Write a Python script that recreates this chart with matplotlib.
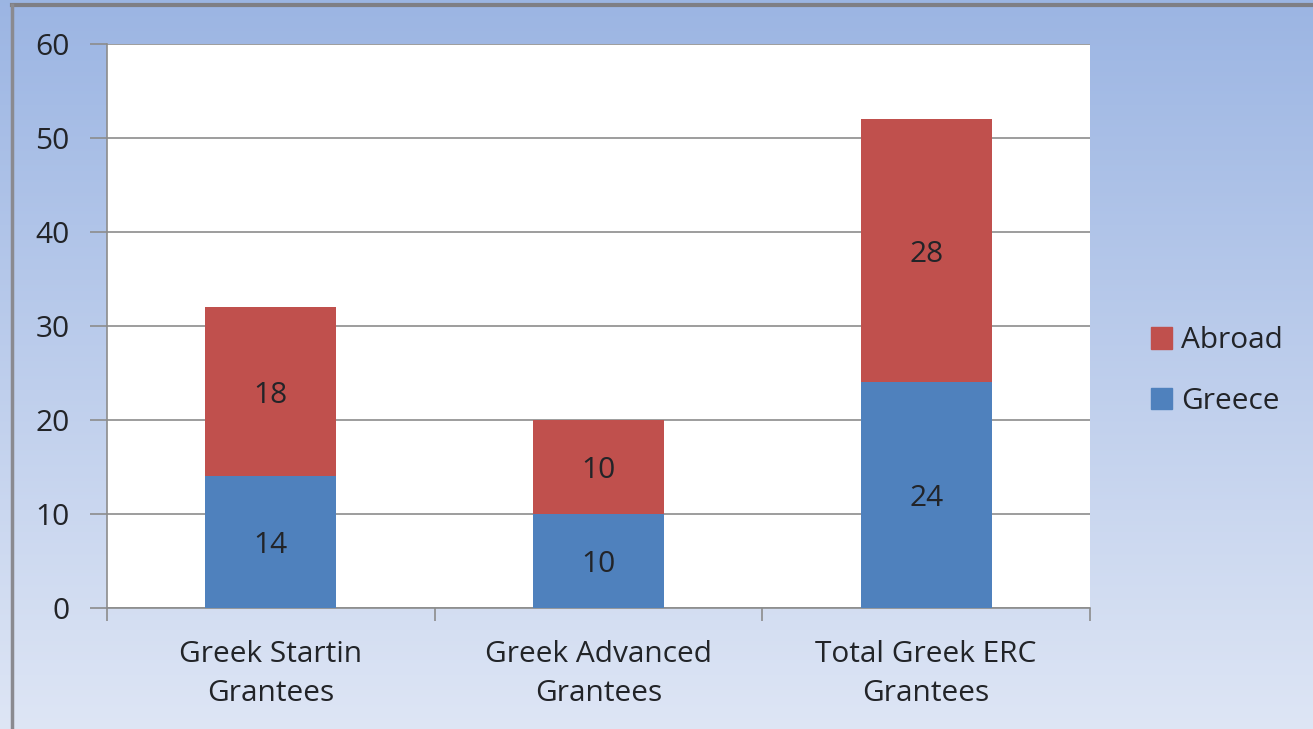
import numpy as np
import matplotlib
matplotlib.use('Agg')
import matplotlib.pyplot as plt
from matplotlib.lines import Line2D
from matplotlib.patches import Patch

categories = ['Greek Startin\nGrantees', 'Greek Advanced\nGrantees', 'Total Greek ERC\nGrantees']
greece = [14, 10, 24]
abroad = [18, 10, 28]
yticks = [0, 10, 20, 30, 40, 50, 60]

plt.rcParams['font.family'] = ['Open Sans', 'DejaVu Sans']

W, H = 1313, 729
fig = plt.figure(figsize=(W / 100, H / 100), dpi=100)

# background gradient (blue at top -> pale at bottom)
bg = fig.add_axes([0, 0, 1, 1], zorder=-10)
top = np.array([0.61, 0.71, 0.89])
bot = np.array([0.87, 0.90, 0.96])
t = np.linspace(0, 1, 256)[:, None]
grad = top * (1 - t) + bot * t
bg.imshow(grad[:, None, :].repeat(2, axis=1), aspect='auto', extent=[0, 1, 0, 1])
bg.set_xlim(0, 1)
bg.set_ylim(0, 1)
bg.axis('off')

# frame edge on top and left
fig.add_artist(Line2D([12 / W, 1], [1 - 5 / H, 1 - 5 / H], color='#7f7f85', lw=3))
fig.add_artist(Line2D([12 / W, 12 / W], [0, 1 - 5 / H], color='#8a8a90', lw=2.5))

x0, x1, y0, y1 = 107, 1090, 44, 608
ax = fig.add_axes([x0 / W, 1 - y1 / H, (x1 - x0) / W, (y1 - y0) / H])
ax.set_facecolor('white')

blue = '#4f81bd'
red = '#c0504d'
txt = '#222428'
fs = 21.5
x = np.arange(len(categories))
bw = 0.4
ax.bar(x, greece, bw, color=blue, zorder=3, label='Greece')
ax.bar(x, abroad, bw, bottom=greece, color=red, zorder=3, label='Abroad')

for i in range(len(categories)):
    ax.text(x[i], greece[i] / 2, str(greece[i]), ha='center', va='center_baseline',
            fontsize=fs, color=txt, zorder=4)
    ax.text(x[i], greece[i] + abroad[i] / 2, str(abroad[i]), ha='center', va='center_baseline',
            fontsize=fs, color=txt, zorder=4)

ax.set_xlim(-0.5, len(categories) - 0.5)
ax.set_ylim(0, 60)
ax.set_yticks(yticks)
ax.yaxis.grid(True, color='#8c8c8c', lw=1.2, zorder=1)
ax.set_xticks(x)
ax.set_xticklabels(categories, fontsize=fs, color=txt, linespacing=1.45)
ax.tick_params(axis='x', length=0, pad=23)
ax.set_xticks(np.arange(-0.5, len(categories)), minor=True)
ax.tick_params(axis='x', which='minor', length=9, color='#8c8c8c', width=1.2)
ax.tick_params(axis='y', labelsize=fs, labelcolor=txt, length=12, color='#8c8c8c',
               width=1.2, pad=15)
for s in ['top', 'right']:
    ax.spines[s].set_visible(False)
for s in ['left', 'bottom']:
    ax.spines[s].set_color('#8c8c8c')
    ax.spines[s].set_linewidth(1.2)

handles = [Patch(color=red, label='Abroad'), Patch(color=blue, label='Greece')]
fig.legend(handles=handles, loc='center left', bbox_to_anchor=(1124 / W, 1 - 371 / H),
           frameon=False, fontsize=fs, handlelength=0.72, handleheight=0.72,
           handletextpad=0.3, labelspacing=1.05, labelcolor=txt)

fig.savefig('out.png', dpi=100)
